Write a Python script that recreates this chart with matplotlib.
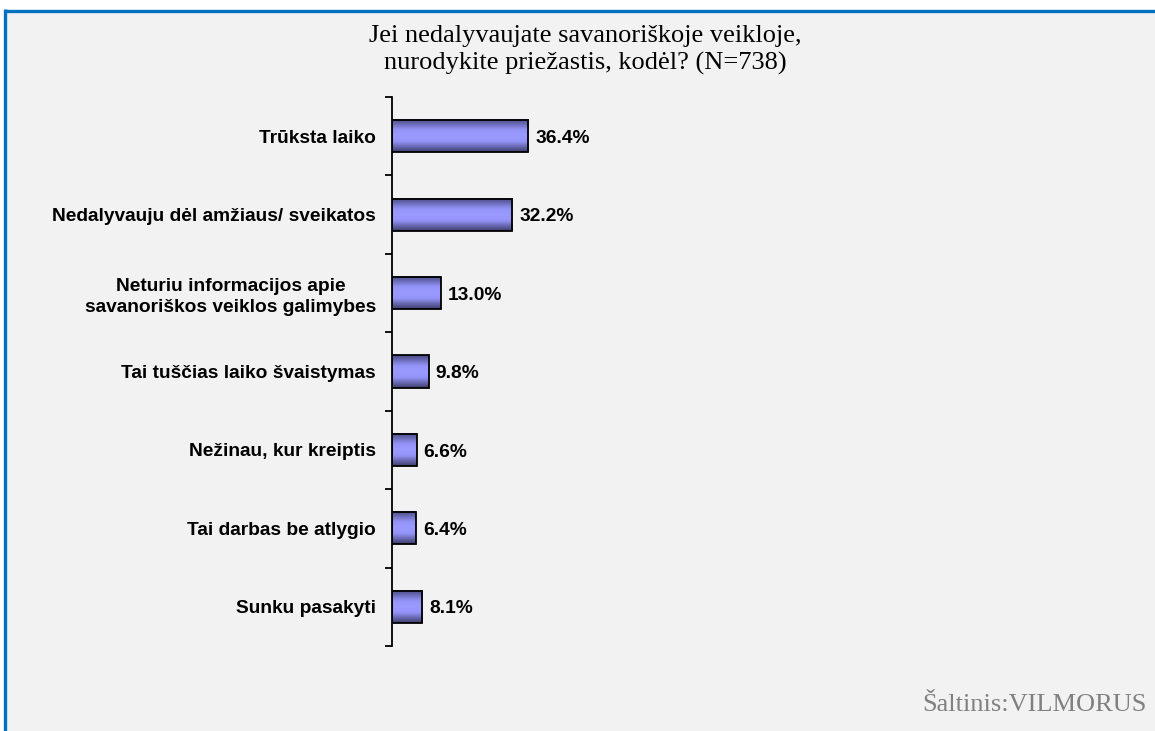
import matplotlib
matplotlib.use("Agg")
import matplotlib.pyplot as plt
import numpy as np
from matplotlib.colors import LinearSegmentedColormap
from matplotlib.lines import Line2D
from matplotlib.patches import Rectangle

categories = [
    "Trūksta laiko",
    "Nedalyvauju dėl amžiaus/ sveikatos",
    "Neturiu informacijos apie\nsavanoriškos veiklos galimybes",
    "Tai tuščias laiko švaistymas",
    "Nežinau, kur kreiptis",
    "Tai darbas be atlygio",
    "Sunku pasakyti",
]
values = [36.4, 32.2, 13.0, 9.8, 6.6, 6.4, 8.1]
value_labels = ["36.4%", "32.2%", "13.0%", "9.8%", "6.6%", "6.4%", "8.1%"]
title_lines = ["Jei nedalyvaujate savanoriškoje veikloje,",
               "nurodykite priežastis, kodėl? (N=738)"]
source = "Šaltinis:VILMORUS"

W, H = 1155, 731
fig = plt.figure(figsize=(W / 100, H / 100), dpi=100)
fig.patch.set_facecolor("white")

# panel background and blue border (top + left)
fig.patches.append(Rectangle((6 / W, 0), 1, 1 - 12 / H, transform=fig.transFigure,
                             facecolor="#f2f2f2", edgecolor="none", zorder=-10))
fig.lines.append(Line2D([5 / W, 1], [1 - 10.5 / H, 1 - 10.5 / H], transform=fig.transFigure,
                        color="#0070c0", lw=2.4, solid_capstyle="butt", zorder=-5))
fig.lines.append(Line2D([5 / W, 5 / W], [0, 1 - 9 / H], transform=fig.transFigure,
                        color="#0070c0", lw=2.4, solid_capstyle="butt", zorder=-5))

ax = fig.add_axes([392 / W, 1 - 646 / H, (1100 - 392) / W, (646 - 97) / H])
ax.set_facecolor("none")
ax.set_zorder(5)
n = len(categories)
ypos = np.arange(n)
bh = 0.41
xmax = (1100 - 392) / 3.74

cmap = LinearSegmentedColormap.from_list(
    "g", [(0, "#4a4a82"), (0.32, "#9494f8"), (0.5, "#9999ff"), (0.68, "#9494f8"), (1, "#3e3e6c")])
grad = np.linspace(0, 1, 64).reshape(-1, 1)
for y, v, lab in zip(ypos, values, value_labels):
    ax.imshow(grad, extent=[0, v, y + bh / 2, y - bh / 2], aspect="auto",
              cmap=cmap, interpolation="bicubic", zorder=2)
    ax.add_patch(Rectangle((0, y - bh / 2), v, bh, facecolor="none",
                           edgecolor="black", lw=1.3, zorder=3))
    ax.annotate(lab, (v, y), xytext=(5, -1.5), textcoords="offset points",
                ha="left", va="center", fontsize=13.8, fontweight="bold",
                family="Liberation Sans", color="black")
ax.set_xlim(0, xmax)
ax.set_ylim(n - 0.5, -0.5)

for s in ["top", "right", "bottom"]:
    ax.spines[s].set_visible(False)
ax.spines["left"].set_linewidth(1.3)
ax.set_xticks([])
ax.set_yticks(np.arange(-0.5, n, 1.0))
ax.set_yticklabels([])
ax.tick_params(axis="y", which="major", length=5, width=1.3, direction="out")
ax.set_yticks(ypos, minor=True)
ax.set_yticklabels(categories, minor=True, fontsize=13.8, fontweight="bold",
                   family="Liberation Sans")
ax.tick_params(axis="y", which="minor", length=0, pad=11.5)
for t in ax.get_yticklabels(minor=True):
    t.set_multialignment("center")
    t.set_linespacing(1.3)

for ln, yy in zip(title_lines, [36, 63]):
    fig.text(585 / W, 1 - yy / H, ln, ha="center", va="center", fontsize=19,
             family="Liberation Serif", color="black")
fig.text(1147 / W, 1 - 705 / H, source, ha="right", va="center", fontsize=19,
         family="Liberation Serif", color="#808080")

fig.savefig("out.png", dpi=100, facecolor=fig.get_facecolor())
